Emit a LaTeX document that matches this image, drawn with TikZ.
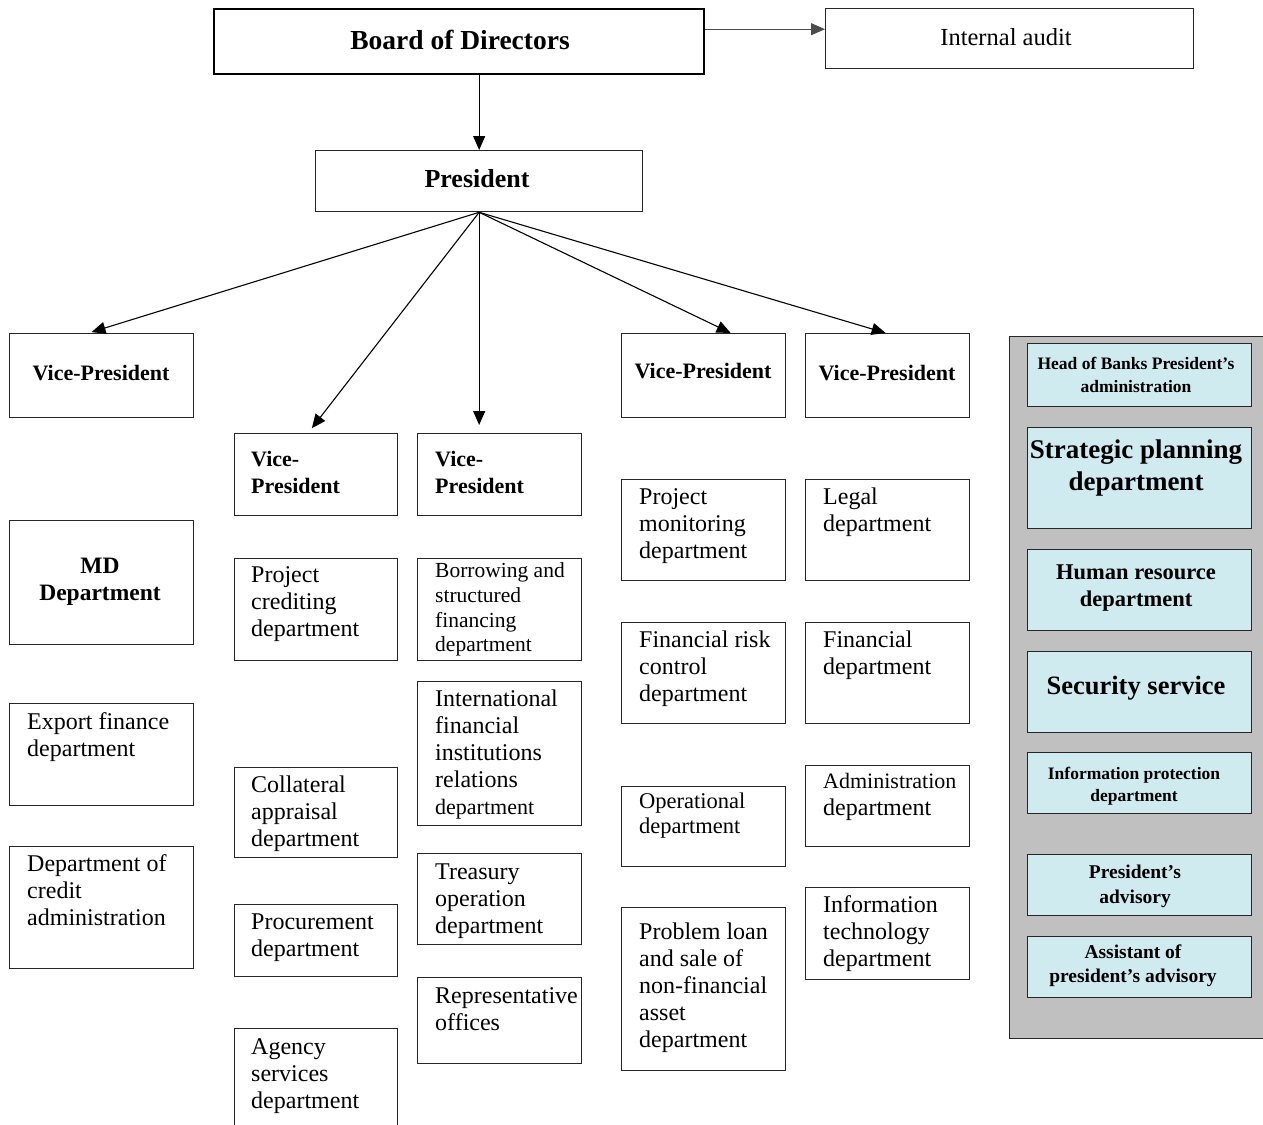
\documentclass[tikz,border=0pt]{standalone}
\usepackage{fontspec}
\setmainfont{Liberation Serif}
\usetikzlibrary{arrows.meta}
\definecolor{lcyan}{RGB}{208,235,240}
\definecolor{pgray}{RGB}{192,192,192}
\newcommand{\st}[1]{\rule{0pt}{#1pt}}
\newcommand{\fs}[2]{\fontsize{#1}{#2}\selectfont}
\newcommand{\mkbox}[6][]{\node[box,#1,anchor=north west,minimum width={(#4-#2)*1pt},minimum height={(#5-#3)*1pt}] (#6) at (#2,#3) {};}
\tikzset{
  box/.style={draw=black!85,line width=1.3pt,inner sep=0pt,fill=white},
  cbox/.style={draw=black!85,line width=1.3pt,inner sep=0pt,fill=lcyan},
  lt/.style={inner sep=0pt,anchor=north west,align=left,font=\fs{24}{27}},
  ct/.style={inner sep=0pt,anchor=north,align=center},
  bt/.style={inner sep=0pt,anchor=base,font=\bfseries\fs{22}{27}},
  arr/.style={line width=1.1pt,-{Triangle[length=14pt,width=12pt]}}
}
\begin{document}
\begin{tikzpicture}[x=1pt,y=-1pt]
\clip (0,0) rectangle (1263,1124);
\fill[white] (0,0) rectangle (1263,1124);
% top
\mkbox[line width=2.4pt,draw=black]{213}{8}{703}{73}{board}
\node[bt,font=\bfseries\fs{27.5}{30}] (board-t) at (460,49.5) {Board of Directors};
\mkbox{825}{8}{1193}{68}{audit}
\node[bt,font=\fs{24.5}{27}] (audit-t) at (1006,46) {Internal audit};
\mkbox{315}{150}{642}{211}{pres}
\node[bt,font=\bfseries\fs{26}{30}] (pres-t) at (477,187.5) {President};
% column 1
\mkbox{9}{333}{193}{417}{vp1}
\node[bt] (vp1-t) at (101,380.5) {Vice-President};
\mkbox{9}{520}{193}{644}{md}
\node[ct,font=\bfseries\fs{23.5}{27}] (md-t) at (100,555) {\st{18}MD\\Department};
\mkbox{9}{703}{193}{805}{exp}
\node[lt] (exp-t) at (27,711) {\st{18}Export finance\\department};
\mkbox{9}{846}{193}{968}{dca}
\node[lt] (dca-t) at (27,853) {\st{18}Department of\\credit\\administration};
% column 2
\mkbox{234}{433}{397}{515}{vp2}
\node[lt,font=\bfseries\fs{22}{27}] (vp2-t) at (251,449) {\st{17}Vice-\\President};
\mkbox{234}{558}{397}{660}{pcd}
\node[lt] (pcd-t) at (251,564) {\st{18}Project\\crediting\\department};
\mkbox{234}{767}{397}{857}{coll}
\node[lt] (coll-t) at (251,774) {\st{18}Collateral\\appraisal\\department};
\mkbox{234}{904}{397}{976}{proc}
\node[lt] (proc-t) at (251,911) {\st{18}Procurement\\department};
\mkbox{234}{1028}{397}{1140}{agen}
\node[lt] (agen-t) at (251,1036) {\st{18}Agency\\services\\department};
% column 3
\mkbox{417}{433}{581}{515}{vp3}
\node[lt,font=\bfseries\fs{22}{27}] (vp3-t) at (435,449) {\st{17}Vice-\\President};
\mkbox{417}{558}{581}{660}{borr}
\node[lt,font=\fs{21.5}{24.7}] (borr-t) at (435,561.5) {\st{16}Borrowing and\\structured\\financing\\department};
\mkbox{417}{681}{581}{825}{intl}
\node[lt] (intl-t) at (435,688) {\st{18}International\\financial\\institutions\\relations\\{\fs{22}{27}department}};
\mkbox{417}{853}{581}{944}{treas}
\node[lt] (treas-t) at (435,861) {\st{18}Treasury\\operation\\department};
\mkbox{417}{977}{581}{1063}{rep}
\node[lt] (rep-t) at (435,985) {\st{18}Representative\\offices};
% column 4
\mkbox{621}{333}{785}{417}{vp4}
\node[bt] (vp4-t) at (703,378.5) {Vice-President};
\mkbox{621}{479}{785}{580}{pmd}
\node[lt] (pmd-t) at (639,486) {\st{18}Project\\monitoring\\department};
\mkbox{621}{622}{785}{723}{frc}
\node[lt] (frc-t) at (639,629) {\st{18}Financial risk\\control\\department};
\mkbox{621}{786}{785}{866}{oper}
\node[lt,font=\fs{22.5}{25}] (oper-t) at (639,791) {\st{17}Operational\\department};
\mkbox{621}{907}{785}{1070}{prob}
\node[lt] (prob-t) at (639,921) {\st{18}Problem loan\\and sale of\\non-financial\\asset\\department};
% column 5
\mkbox{805}{333}{969}{417}{vp5}
\node[bt] (vp5-t) at (887,380.5) {Vice-President};
\mkbox{805}{479}{969}{580}{legal}
\node[lt] (legal-t) at (823,486) {\st{18}Legal\\department};
\mkbox{805}{622}{969}{723}{fin}
\node[lt] (fin-t) at (823,629) {\st{18}Financial\\department};
\mkbox{805}{765}{969}{846}{admin}
\node[lt] (admin-t) at (823,770) {\st{18}{\fs{22}{27}Administration}\\department};
\mkbox{805}{887}{969}{979}{it}
\node[lt] (it-t) at (823,894) {\st{18}Information\\technology\\department};
% gray panel
\mkbox[fill=pgray,line width=1.2pt]{1009}{336}{1275}{1038}{panel}
\mkbox[cbox]{1027}{343}{1251}{406}{head}
\node[ct,font=\bfseries\fs{17.5}{23}] (head-t) at (1136,356) {\st{13}Head of Banks President’s\\administration};
\mkbox[cbox]{1027}{427}{1251}{528}{strat}
\node[ct,font=\bfseries\fs{27}{32}] (strat-t) at (1136,438.5) {\st{20}Strategic planning\\department};
\mkbox[cbox]{1027}{549}{1251}{630}{hr}
\node[ct,font=\bfseries\fs{22.5}{27}] (hr-t) at (1136,562.5) {\st{17}Human resource\\department};
\mkbox[cbox]{1027}{651}{1251}{732}{sec}
\node[bt,font=\bfseries\fs{26.5}{30}] (sec-t) at (1136,694.5) {Security service};
\mkbox[cbox]{1027}{752}{1251}{813}{infp}
\node[ct,font=\bfseries\fs{17.5}{22}] (infp-t) at (1134,766) {\st{13}Information protection\\department};
\mkbox[cbox]{1027}{854}{1251}{915}{padv}
\node[ct,font=\bfseries\fs{19.5}{25}] (padv-t) at (1135,863) {\st{15}President’s\\advisory};
\mkbox[cbox]{1027}{936}{1251}{997}{asst}
\node[ct,font=\bfseries\fs{19.5}{24}] (asst-t) at (1133,943) {\st{15}Assistant of\\president’s advisory};
% connectors
\draw[arr,draw=black!70] ([yshift=12.5pt]board.east) -- ([yshift=12.5pt]board.east -| audit.west);
\draw[arr] (board.south -| pres.north) -- (pres.north);
\draw[arr,shorten >=3pt] (pres.south) -- ([xshift=-13pt]vp1.north);
\draw[arr,shorten >=6pt] (pres.south) -- ([xshift=-8pt]vp2.north);
\draw[arr,shorten >=8pt] (pres.south) -- (pres.south |- vp3.north);
\draw[arr] (pres.south) -- ([xshift=27pt]vp4.north);
\draw[arr] (pres.south) -- ([xshift=-2pt]vp5.north);
\end{tikzpicture}
\end{document}
